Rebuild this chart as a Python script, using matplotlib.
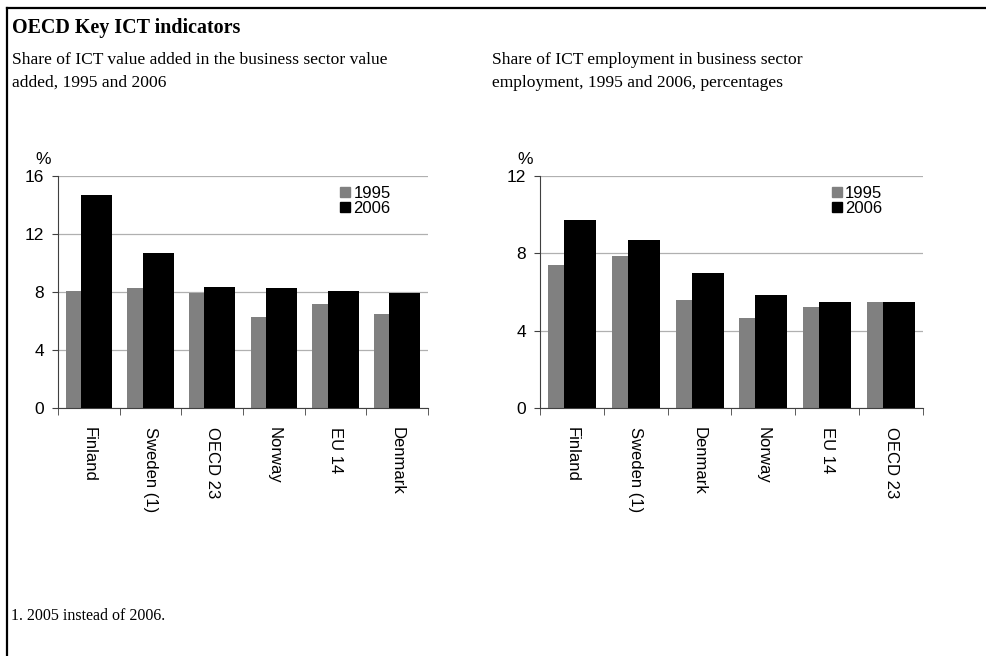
import numpy as np
import matplotlib
matplotlib.use("Agg")
from matplotlib import pyplot as plt
from matplotlib.lines import Line2D
from matplotlib.patches import Patch

# left panel: ICT value added share
va_countries = ["Finland", "Sweden (1)", "OECD 23", "Norway", "EU 14", "Denmark"]
va_1995 = [8.1, 8.3, 7.9, 6.3, 7.2, 6.5]
va_2006 = [14.7, 10.7, 8.35, 8.3, 8.1, 7.9]

# right panel: ICT employment share
emp_countries = ["Finland", "Sweden (1)", "Denmark", "Norway", "EU 14", "OECD 23"]
emp_1995 = [7.4, 7.85, 5.6, 4.65, 5.2, 5.5]
emp_2006 = [9.75, 8.7, 7.0, 5.85, 5.5, 5.5]

GRAY = "#808080"
SANS = "Liberation Sans"
SERIF = "Liberation Serif"

fig = plt.figure(figsize=(9.87, 6.56), dpi=100)

# frame lines (top and left)
fig.add_artist(Line2D([7 / 987, 1.0], [1 - 8 / 656, 1 - 8 / 656], color="black", lw=1.6))
fig.add_artist(Line2D([7 / 987, 7 / 987], [0, 1 - 8 / 656], color="black", lw=1.6))

fig.text(12 / 987, 1 - 28 / 656, "OECD Key ICT indicators", family=SERIF,
         weight="bold", fontsize=14.4, va="center", ha="left")
fig.text(12 / 987, 1 - 71.5 / 656,
         "Share of ICT value added in the business sector value\nadded, 1995 and 2006",
         family=SERIF, fontsize=12.6, va="center", ha="left", linespacing=1.6)
fig.text(492 / 987, 1 - 71.5 / 656,
         "Share of ICT employment in business sector\nemployment, 1995 and 2006, percentages",
         family=SERIF, fontsize=12.6, va="center", ha="left", linespacing=1.6)
fig.text(11 / 987, 1 - 616 / 656, "1. 2005 instead of 2006.", family=SERIF,
         fontsize=11.5, va="center", ha="left")


def panel(rect, cats, v95, v06, ymax, step):
    ax = fig.add_axes(rect)
    x = np.arange(len(cats))
    ax.bar(x - 0.125, v95, width=0.5, color=GRAY, zorder=2)
    ax.bar(x + 0.125, v06, width=0.5, color="black", zorder=3)
    ax.set_xlim(-0.5, len(cats) - 0.5)
    ax.set_ylim(0, ymax)
    ax.set_yticks(np.arange(0, ymax + 0.1, step))
    ax.yaxis.grid(True, color="#b0b0b0", lw=0.9, zorder=0)
    ax.set_axisbelow(True)
    for s in ["top", "right"]:
        ax.spines[s].set_visible(False)
    for s in ["left", "bottom"]:
        ax.spines[s].set_color("#404040")
    ax.set_xticks(x)
    ax.set_xticklabels(cats, rotation=270, family=SANS, fontsize=12, va="top")
    ax.tick_params(axis="x", which="major", length=0, pad=14)
    ax.set_xticks(np.arange(-0.5, len(cats)), minor=True)
    ax.tick_params(axis="x", which="minor", length=5, color="#404040")
    ax.tick_params(axis="y", length=4, color="#404040", pad=6)
    for t in ax.get_yticklabels():
        t.set_family(SANS)
        t.set_fontsize(12.5)
    ax.text(-0.04, 1.04, "%", transform=ax.transAxes, family=SANS, fontsize=12.5,
            ha="center", va="bottom")
    handles = [Patch(color=GRAY, label="1995"), Patch(color="black", label="2006")]
    ax.legend(handles=handles, loc="upper left", bbox_to_anchor=(0.735, 1.0),
              frameon=False, prop={"family": SANS, "size": 12},
              handlelength=0.6, handleheight=0.6, handletextpad=0.2,
              labelspacing=0.0, borderaxespad=0.2)
    return ax


panel([58 / 987, 1 - 408 / 656, 370 / 987, 232 / 656], va_countries, va_1995, va_2006, 16, 4)
panel([540 / 987, 1 - 408 / 656, 383 / 987, 232 / 656], emp_countries, emp_1995, emp_2006, 12, 4)

fig.savefig("out.png", dpi=100)
